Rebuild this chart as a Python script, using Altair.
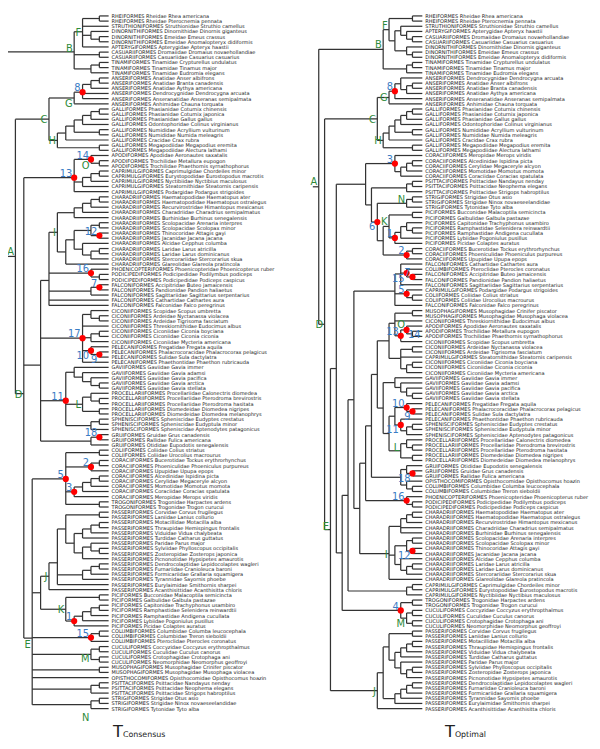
import altair as alt
import pandas as pd

LEFT_LEAVES = [
"RHEIFORMES Rheidae Rhea americana","RHEIFORMES Rheidae Pterocnemia pennata","STRUTHIONIFORMES Struthionidae Struthio camellus",
"DINORNITHIFORMES Dinornithidae Dinornis giganteus","DINORNITHIFORMES Emeidae Emeus crassus","DINORNITHIFORMES Emeidae Anomalopteryx didiformis",
"APTERYGIFORMES Apterygidae Apteryx haastii","CASUARIIFORMES Dromaiidae Dromaius novaehollandiae","CASUARIIFORMES Casuariidae Casuarius casuarius",
"TINAMIFORMES Tinamidae Crypturellus undulatus","TINAMIFORMES Tinamidae Tinamus major","TINAMIFORMES Tinamidae Eudromia elegans",
"ANSERIFORMES Anatidae Anser albifrons","ANSERIFORMES Anatidae Branta canadensis","ANSERIFORMES Anatidae Aythya americana",
"ANSERIFORMES Dendrocygnidae Dendrocygna arcuata","ANSERIFORMES Anseranatidae Anseranas semipalmata","ANSERIFORMES Anhimidae Chauna torquata",
"GALLIFORMES Phasianidae Coturnix chinensis","GALLIFORMES Phasianidae Coturnix japonica","GALLIFORMES Phasianidae Gallus gallus",
"GALLIFORMES Odontophoridae Colinus virginianus","GALLIFORMES Numididae Acryllium vulturinum","GALLIFORMES Numididae Numida meleagris",
"GALLIFORMES Cracidae Crax rubra","GALLIFORMES Megapodiidae Megapodius eremita","GALLIFORMES Megapodiidae Alectura lathami",
"APODIFORMES Apodidae Aeronautes saxatalis","APODIFORMES Trochilidae Metallura eupogon","APODIFORMES Trochilidae Phaethornis syrnathophorus",
"CAPRIMULGIFORMES Caprimulgidae Chordeiles minor","CAPRIMULGIFORMES Eurystopodidae Eurostopodus macrotis","CAPRIMULGIFORMES Nyctibiidae Nyctibius maculosus",
"CAPRIMULGIFORMES Steatornithidae Steatornis caripensis","CAPRIMULGIFORMES Podargidae Podargus strigoides",
"CHARADRIIFORMES Haematopodidae Haematopus ater","CHARADRIIFORMES Haematopodidae Haematopus ostralegus","CHARADRIIFORMES Recurvirostridae Himantopus mexicanus",
"CHARADRIIFORMES Charadriidae Charadrius semipalmatus","CHARADRIIFORMES Burhinidae Burhinus senegalensis","CHARADRIIFORMES Scolopacidae Arenaria interpres",
"CHARADRIIFORMES Scolopacidae Scolopax minor","CHARADRIIFORMES Thinocoridae Attagis gayi","CHARADRIIFORMES Jacanidae Jacana jacana",
"CHARADRIIFORMES Alcidae Cepphus columba","CHARADRIIFORMES Laridae Larus atricilla","CHARADRIIFORMES Laridae Larus dominicanus",
"CHARADRIIFORMES Stercorariidae Stercorarius skua","CHARADRIIFORMES Glareolidae Glareola pratincola",
"PHOENICOPTERIFORMES Phoenicopteridae Phoenicopterus ruber","PODICIPEDIFORMES Podicipedidae Podilymbus podiceps","PODICIPEDIFORMES Podicipedidae Podiceps caspicus",
"FALCONIFORMES Accipitridae Buteo jamaicensis","FALCONIFORMES Pandionidae Pandion haliaetus","FALCONIFORMES Sagittariidae Sagittarius serpentarius",
"FALCONIFORMES Cathartidae Cathartes aura","FALCONIFORMES Falconidae Falco peregrinus",
"CICONIIFORMES Scopidae Scopus umbretta","CICONIIFORMES Ardeidae Nyctanassa violacea","CICONIIFORMES Ardeidae Tigrisoma fasciatum",
"CICONIIFORMES Threskiornithidae Eudocimus albus","CICONIIFORMES Ciconiidae Ciconia boyciana","CICONIIFORMES Ciconiidae Ciconia ciconia",
"CICONIIFORMES Ciconiidae Mycteria americana","PELECANIFORMES Fregatidae Fregata aquila","PELECANIFORMES Phalacrocoracidae Phalacrocorax pelagicus",
"PELECANIFORMES Sulidae Sula dactylatra","PELECANIFORMES Phaethontidae Phaethon rubricauda",
"GAVIIFORMES Gaviidae Gavia immer","GAVIIFORMES Gaviidae Gavia adamsi","GAVIIFORMES Gaviidae Gavia pacifica","GAVIIFORMES Gaviidae Gavia arctica",
"GAVIIFORMES Gaviidae Gavia stellata","PROCELLARIIFORMES Procellariidae Calonectris diomedea","PROCELLARIIFORMES Procellariidae Pterodroma brevirostris",
"PROCELLARIIFORMES Procellariidae Pterodroma hasitata","PROCELLARIIFORMES Diomedeidae Diomedea nigripes","PROCELLARIIFORMES Diomedeidae Diomedea melanophrys",
"SPHENISCIFORMES Spheniscidae Eudyptes crestatus","SPHENISCIFORMES Spheniscidae Eudyptula minor","SPHENISCIFORMES Spheniscidae Aptenodytes patagonicus",
"GRUIFORMES Gruidae Grus canadensis","GRUIFORMES Rallidae Fulica americana","GRUIFORMES Otididae Eupodotis senegalensis",
"COLIIFORMES Coliidae Colius striatus","COLIIFORMES Coliidae Urocolius macrourus","CORACIIFORMES Bucerotidae Tockus erythrorhynchus",
"CORACIIFORMES Phoeniculidae Phoeniculus purpureus","CORACIIFORMES Upupidae Upupa epops","CORACIIFORMES Alcedinidae Ispidina picta",
"CORACIIFORMES Cerylidae Megaceryle alcyon","CORACIIFORMES Momotidae Momotus momota","CORACIIFORMES Coraciidae Coracias spatulata",
"CORACIIFORMES Meropidae Merops viridis","TROGONIFORMES Trogonidae Harpactes ardens","TROGONIFORMES Trogonidae Trogon curucui",
"PASSERIFORMES Corvidae Corvus frugilegus","PASSERIFORMES Laniidae Lanius collurio","PASSERIFORMES Motacillidae Motacilla alba",
"PASSERIFORMES Thraupidae Hemispingus frontalis","PASSERIFORMES Viduidae Vidua chalybeata","PASSERIFORMES Turdidae Catharus guttatus",
"PASSERIFORMES Paridae Parus major","PASSERIFORMES Sylviidae Phylloscopus occipitalis","PASSERIFORMES Zosteropidae Zosterops japonica",
"PASSERIFORMES Picnonotidae Hypsipetes amaurotis","PASSERIFORMES Dendrocolaptidae Lepidocolaptes wagleri","PASSERIFORMES Furnariidae Cranioleuca baroni",
"PASSERIFORMES Formicariidae Grallaria squamigera","PASSERIFORMES Tyrannidae Sayornis phoebe","PASSERIFORMES Eurylaimidae Smithornis sharpei",
"PASSERIFORMES Acanthisittidae Acanthisitta chloris","PICIFORMES Bucconidae Malacoptila semicincta","PICIFORMES Galbulidae Galbula pastazae",
"PICIFORMES Capitonidae Trachyphonus usambiro","PICIFORMES Ramphastidae Selenidera reinwardtii","PICIFORMES Ramphastidae Andigena cucullata",
"PICIFORMES Lybiidae Pogoniulus pusillus","PICIFORMES Picidae Colaptes auratus","COLUMBIFORMES Columbidae Columba leucocephala",
"COLUMBIFORMES Columbidae Treron sieboldii","COLUMBIFORMES Pteroclidae Pterocles coronatus","CUCULIFORMES Coccyzidae Coccyzus erythropthalmus",
"CUCULIFORMES Cuculidae Cuculus canorus","CUCULIFORMES Crotophagidae Crotophaga ani","CUCULIFORMES Neomorphidae Neomorphus geoffroyi",
"MUSOPHAGIFORMES Musophagidae Crinifer piscator","MUSOPHAGIFORMES Musophagidae Musophaga violacea","OPISTHOCOMIFORMES Opisthocomidae Opisthocomus hoazin",
"PSITTACIFORMES Psittacidae Nandayus nenday","PSITTACIFORMES Psittacidae Neophema elegans","PSITTACIFORMES Psittacidae Strigops habroptilus",
"STRIGIFORMES Strigidae Otus asio","STRIGIFORMES Strigidae Ninox novaeseelandidae","STRIGIFORMES Tytonidae Tyto alba",
]

RIGHT_LEAVES = [
"RHEIFORMES Rheidae Rhea americana","RHEIFORMES Rheidae Pterocnemia pennata","STRUTHIONIFORMES Struthionidae Struthio camellus",
"APTERYGIFORMES Apterygidae Apteryx haastii","CASUARIIFORMES Dromaiidae Dromaius novaehollandiae","CASUARIIFORMES Casuariidae Casuarius casuarius",
"DINORNITHIFORMES Dinornithidae Dinornis giganteus","DINORNITHIFORMES Emeidae Emeus crassus","DINORNITHIFORMES Emeidae Anomalopteryx didiformis",
"TINAMIFORMES Tinamidae Crypturellus undulatus","TINAMIFORMES Tinamidae Tinamus major","TINAMIFORMES Tinamidae Eudromia elegans",
"ANSERIFORMES Dendrocygnidae Dendrocygna arcuata","ANSERIFORMES Anatidae Anser albifrons","ANSERIFORMES Anatidae Branta canadensis",
"ANSERIFORMES Anatidae Aythya americana","ANSERIFORMES Anseranatidae Anseranas semipalmata","ANSERIFORMES Anhimidae Chauna torquata",
"GALLIFORMES Phasianidae Coturnix chinensis","GALLIFORMES Phasianidae Coturnix japonica","GALLIFORMES Phasianidae Gallus gallus",
"GALLIFORMES Odontophoridae Colinus virginianus","GALLIFORMES Numididae Acryllium vulturinum","GALLIFORMES Numididae Numida meleagris",
"GALLIFORMES Cracidae Crax rubra","GALLIFORMES Megapodiidae Megapodius eremita","GALLIFORMES Megapodiidae Alectura lathami",
"CORACIIFORMES Meropidae Merops viridis","CORACIIFORMES Alcedinidae Ispidina picta","CORACIIFORMES Cerylidae Megaceryle alcyon",
"CORACIIFORMES Momotidae Momotus momota","CORACIIFORMES Coraciidae Coracias spatulata","PSITTACIFORMES Psittacidae Nandayus nenday",
"PSITTACIFORMES Psittacidae Neophema elegans","PSITTACIFORMES Psittacidae Strigops habroptilus","STRIGIFORMES Strigidae Otus asio",
"STRIGIFORMES Strigidae Ninox novaeseelandidae","STRIGIFORMES Tytonidae Tyto alba","PICIFORMES Bucconidae Malacoptila semicincta",
"PICIFORMES Galbulidae Galbula pastazae","PICIFORMES Capitonidae Trachyphonus usambiro","PICIFORMES Ramphastidae Selenidera reinwardtii",
"PICIFORMES Ramphastidae Andigena cucullata","PICIFORMES Lybiidae Pogoniulus pusillus","PICIFORMES Picidae Colaptes auratus",
"CORACIIFORMES Bucerotidae Tockus erythrorhynchus","CORACIIFORMES Phoeniculidae Phoeniculus purpureus","CORACIIFORMES Upupidae Upupa epops",
"FALCONIFORMES Cathartidae Cathartes aura","COLUMBIFORMES Pteroclidae Pterocles coronatus","FALCONIFORMES Accipitridae Buteo jamaicensis",
"FALCONIFORMES Pandionidae Pandion haliaetus","FALCONIFORMES Sagittariidae Sagittarius serpentarius","CAPRIMULGIFORMES Podargidae Podargus strigoides",
"COLIIFORMES Coliidae Colius striatus","COLIIFORMES Coliidae Urocolius macrourus","FALCONIFORMES Falconidae Falco peregrinus",
"MUSOPHAGIFORMES Musophagidae Crinifer piscator","MUSOPHAGIFORMES Musophagidae Musophaga violacea","CICONIIFORMES Threskiornithidae Eudocimus albus",
"APODIFORMES Apodidae Aeronautes saxatalis","APODIFORMES Trochilidae Metallura eupogon","APODIFORMES Trochilidae Phaethornis syrnathophorus",
"CICONIIFORMES Scopidae Scopus umbretta","CICONIIFORMES Ardeidae Nyctanassa violacea","CICONIIFORMES Ardeidae Tigrisoma fasciatum",
"CAPRIMULGIFORMES Steatornithidae Steatornis caripensis","CICONIIFORMES Ciconiidae Ciconia boyciana","CICONIIFORMES Ciconiidae Ciconia ciconia",
"CICONIIFORMES Ciconiidae Mycteria americana","GAVIIFORMES Gaviidae Gavia immer","GAVIIFORMES Gaviidae Gavia adamsi",
"GAVIIFORMES Gaviidae Gavia pacifica","GAVIIFORMES Gaviidae Gavia arctica","GAVIIFORMES Gaviidae Gavia stellata",
"PELECANIFORMES Fregatidae Fregata aquila","PELECANIFORMES Phalacrocoracidae Phalacrocorax pelagicus","PELECANIFORMES Sulidae Sula dactylatra",
"PELECANIFORMES Phaethontidae Phaethon rubricauda","SPHENISCIFORMES Spheniscidae Eudyptes crestatus","SPHENISCIFORMES Spheniscidae Eudyptula minor",
"SPHENISCIFORMES Spheniscidae Aptenodytes patagonicus","PROCELLARIIFORMES Procellariidae Calonectris diomedea","PROCELLARIIFORMES Procellariidae Pterodroma brevirostris",
"PROCELLARIIFORMES Procellariidae Pterodroma hasitata","PROCELLARIIFORMES Diomedeidae Diomedea nigripes","PROCELLARIIFORMES Diomedeidae Diomedea melanophrys",
"GRUIFORMES Otididae Eupodotis senegalensis","GRUIFORMES Gruidae Grus canadensis","GRUIFORMES Rallidae Fulica americana",
"OPISTHOCOMIFORMES Opisthocomidae Opisthocomus hoazin","COLUMBIFORMES Columbidae Columba leucocephala","COLUMBIFORMES Columbidae Treron sieboldii",
"PHOENICOPTERIFORMES Phoenicopteridae Phoenicopterus ruber","PODICIPEDIFORMES Podicipedidae Podilymbus podiceps","PODICIPEDIFORMES Podicipedidae Podiceps caspicus",
"CHARADRIIFORMES Haematopodidae Haematopus ater","CHARADRIIFORMES Haematopodidae Haematopus ostralegus","CHARADRIIFORMES Recurvirostridae Himantopus mexicanus",
"CHARADRIIFORMES Charadriidae Charadrius semipalmatus","CHARADRIIFORMES Burhinidae Burhinus senegalensis","CHARADRIIFORMES Scolopacidae Arenaria interpres",
"CHARADRIIFORMES Scolopacidae Scolopax minor","CHARADRIIFORMES Thinocoridae Attagis gayi","CHARADRIIFORMES Jacanidae Jacana jacana",
"CHARADRIIFORMES Alcidae Cepphus columba","CHARADRIIFORMES Laridae Larus atricilla","CHARADRIIFORMES Laridae Larus dominicanus",
"CHARADRIIFORMES Stercorariidae Stercorarius skua","CHARADRIIFORMES Glareolidae Glareola pratincola","CAPRIMULGIFORMES Caprimulgidae Chordeiles minor",
"CAPRIMULGIFORMES Eurystopodidae Eurostopodus macrotis","CAPRIMULGIFORMES Nyctibiidae Nyctibius maculosus","TROGONIFORMES Trogonidae Harpactes ardens",
"TROGONIFORMES Trogonidae Trogon curucui","CUCULIFORMES Coccyzidae Coccyzus erythropthalmus","CUCULIFORMES Cuculidae Cuculus canorus",
"CUCULIFORMES Crotophagidae Crotophaga ani","CUCULIFORMES Neomorphidae Neomorphus geoffroyi","PASSERIFORMES Corvidae Corvus frugilegus",
"PASSERIFORMES Laniidae Lanius collurio","PASSERIFORMES Motacillidae Motacilla alba","PASSERIFORMES Thraupidae Hemispingus frontalis",
"PASSERIFORMES Viduidae Vidua chalybeata","PASSERIFORMES Turdidae Catharus guttatus","PASSERIFORMES Paridae Parus major",
"PASSERIFORMES Sylviidae Phylloscopus occipitalis","PASSERIFORMES Zosteropidae Zosterops japonica","PASSERIFORMES Picnonotidae Hypsipetes amaurotis",
"PASSERIFORMES Dendrocolaptidae Lepidocolaptes wagleri","PASSERIFORMES Furnariidae Cranioleuca baroni","PASSERIFORMES Formicariidae Grallaria squamigera",
"PASSERIFORMES Tyrannidae Sayornis phoebe","PASSERIFORMES Eurylaimidae Smithornis sharpei","PASSERIFORMES Acanthisittidae Acanthisitta chloris",
]


def grp(*parts, tag=""):
    return "(" + ",".join(str(p) for p in parts) + ")" + tag


# ---- Left tree (T_Consensus); leaf numbers index LEFT_LEAVES (1-based)
# tags: letters = clade name (green); digits = numbered node (red dot + blue number);
# "_" = number below-left, "~" = number below-right
L_F = "((1,2),3,(4,(5,6)),7)F"
L_B = grp(L_F, "(8,9)", "((10,11),12)", tag="B")
L_G = grp("(((13,14),15),16,17)8", 18, tag="G")
L_H = "((((((19,20),21),22),(23,24)),25),(26,27))H"
L_C = grp(L_G, L_H, tag="C")
L_13 = "((28,(29,30))O14,(((31,32),33),34),35)13"
L_I = "(((((36,37),38),39),40),((((41,42),(43,44)12),(45,((46,47),48))),49))I"
L_135 = grp(L_I, "(50,(51,52))16", "((53,54)7,55)", 56, 57)
L_17 = "((58,(59,60)),61,((62,63),64),(65,(66,67)9_)10_,68)17"
L_11 = "((69,(70,(71,(72,73)))),((74,(75,76)),(77,78))L,((79,80),81))11"
L_105 = grp(L_135, L_17, L_11, "((82,83)18,84)")
L_5 = "((85,86),((87,88),89)2,((((90,91),92),93),94)3,(95,96))5"
L_J = "(((((97,98),((((99,100),101),102),((103,(104,105)),106))),(((107,108),109),110),111),112)J"
L_K = "((113,114),((((115,116),117),118),119)1)K"
L_35 = grp(L_5, L_J, L_K)
L_E = grp(L_13, L_105, L_35, "((120,121),122)15", "((123,124),(125,126))M", "(127,128)", 129,
          "((130,131),132)", "((133,134),135)N", tag="E")
L_D = grp(L_C, L_E, tag="D")
LEFT_TREE = grp(L_B, L_D, tag="A")

# ---- Right tree (T_Optimal); leaf numbers index RIGHT_LEAVES (1-based)
R_F = "((1,2),((3,(4,(5,6))),(7,(8,9))))F"
R_B = grp(R_F, "((10,11),12)", tag="B")
R_G = "(((13,((14,15),16)),17)8,18)G"
R_H = "((((((19,20),21),22),(23,24)),25),(26,27))H"
R_C = grp(R_G, R_H, tag="C")
R_K = grp("(39,40)", "(((41,(42,43)),44),45)1", tag="K")
R_6 = grp("((36,37),38)N", grp(R_K, "((46,47),48)2"), tag="6_")
R_P1 = grp("(28,(((29,30),31),32))3", grp("((33,34),35)", R_6))
R_P2 = "((49,(50,(51,52)7)15_,53),(54,(55,56))5,57)"
R_P3 = "(((58,59),60,((61,(62,63))O14~,64)13),((65,66),67,((68,69),70)))"
R_P4 = "((71,(72,(73,(74,75)))),(((76,(77,78)9_)10,(79,((80,81),82))11_),((83,(84,85)),(86,87))L))"
R_P5 = "((88,(89,90)18_),(91,(92,93)))"
R_P6 = "(94,(95,96))16"
R_I = "((((97,98),99),100,101),(((102,103),(104,105)12_),(106,((107,108),109))),110)I"
R_P7 = "((114,115),((116,117),(118,119))M)4"
R_J = "((((120,121),((((122,123),124),125),(126,((127,128),129)))),((((130,131),132),133),134)),135)J"
R_R6 = grp(R_P3, R_P4)
R_R5 = grp(R_R6, R_P5)
R_R4 = grp(R_R5, R_P6)
R_R3b = grp(R_R4, R_I)
R_R3 = grp(R_P2, R_R3b)
R_R2 = grp(R_R3, "((111,112),113)")
R_R1b = grp(R_R2, R_P7)
R_R1 = grp(R_P1, R_R1b)
R_E = grp(R_R1, R_J, tag="E")
R_D = grp(R_C, R_E, tag="D")
RIGHT_TREE = grp(R_B, R_D, tag="A")

# vertical nudges of clade letters relative to their node (px)
LEFT_LETTER_DY = {"A": -5, "B": -4, "G": 5, "O": 6, "N": 13, "M": 4, "E": 6}
RIGHT_LETTER_DY = {"A": -6, "B": -5, "F": -5, "K": -5, "O": -6, "N": -4, "L": -4, "M": 5, "E": -4}

TITLE_MAIN = ["T", "T"]
TITLE_SUB = ["Consensus", "Optimal"]


def parse(s):
    pos = 0
    n = len(s)

    def read_tok():
        nonlocal pos
        st = pos
        while pos < n and s[pos] not in "(),":
            pos += 1
        return s[st:pos]

    def node():
        nonlocal pos
        if pos < n and s[pos] == "(":
            pos += 1
            kids = [node()]
            while pos < n and s[pos] == ",":
                pos += 1
                kids.append(node())
            if pos < n and s[pos] == ")":
                pos += 1
            return {"kids": kids, "tag": read_tok()}
        return {"leaf": int(read_tok())}

    return node()


def height(nd):
    if "leaf" in nd:
        return 0
    nd["h"] = max(height(c) for c in nd["kids"]) + 1
    return nd["h"]


def layout(tree, leaves, tip_x, root_x, first_edge, y0, dy, letter_dy):
    H = height(tree)
    step = (tip_x - root_x - first_edge) / max(H - 1, 1)
    segs, dots, nums, lets, labs = [], [], [], [], []

    def rec(nd):
        if "leaf" in nd:
            y = y0 + (nd["leaf"] - 1) * dy
            labs.append({"x": tip_x + 3.0, "y": y, "t": leaves[nd["leaf"] - 1]})
            return tip_x, y
        ch = [rec(c) for c in nd["kids"]]
        x = tip_x - first_edge - (nd["h"] - 1) * step
        y = sum(c[1] for c in ch) / len(ch)
        segs.append({"x": x, "x2": x, "y": ch[0][1], "y2": ch[-1][1]})
        for cx, cy in ch:
            segs.append({"x": x, "x2": cx, "y": cy, "y2": cy})
        tag = nd["tag"]
        letters = "".join(c for c in tag if c.isalpha())
        digits = "".join(c for c in tag if c.isdigit())
        if letters:
            lets.append({"x": x - 1.5, "y": y + 1 + letter_dy.get(letters, 0), "t": letters})
        if digits:
            dots.append({"x": x, "y": y})
            if "_" in tag:
                nums.append({"x": x - 2, "y": y + 8.6, "t": digits, "a": "right"})
            elif "~" in tag:
                nums.append({"x": x + 1.5, "y": y + 8.6, "t": digits, "a": "left"})
            else:
                nums.append({"x": x - 2, "y": y - 0.8, "t": digits, "a": "right"})
        return x, y

    rx, ry = rec(tree)
    segs.append({"x": rx - 6, "x2": rx, "y": ry, "y2": ry})
    return segs, dots, nums, lets, labs


Y0, DY = 11.0, 5.24
Lt = layout(parse(LEFT_TREE), LEFT_LEAVES, 110, 7, 9.4, Y0, DY, LEFT_LETTER_DY)
Rt = layout(parse(RIGHT_TREE), RIGHT_LEAVES, 428, 323, 10, Y0, DY, RIGHT_LETTER_DY)

segs = pd.DataFrame(Lt[0] + Rt[0])
dots = pd.DataFrame(Lt[1] + Rt[1])
nums = pd.DataFrame(Lt[2] + Rt[2])
lets = pd.DataFrame(Lt[3] + Rt[3])
labs = pd.DataFrame(Lt[4] + Rt[4])

titles_main = pd.DataFrame({"x": [124.5, 461.0], "y": [741.5, 741.5], "t": TITLE_MAIN})
titles_sub = pd.DataFrame({"x": [124.5, 461.0], "y": [742.0, 742.0], "t": TITLE_SUB})

W, H = 592, 736
xs = alt.Scale(domain=[8, 8 + W], range=[0, W])
ys = alt.Scale(domain=[8, 8 + H], range=[0, H])


def X(f):
    return alt.X(f, type="quantitative", scale=xs, axis=None)


def Y(f):
    return alt.Y(f, type="quantitative", scale=ys, axis=None)


rules = alt.Chart(segs).mark_rule(color="#333333", strokeWidth=1.25).encode(
    x=X("x"), x2="x2", y=Y("y"), y2="y2")
leaf_text = alt.Chart(labs).mark_text(align="left", baseline="middle", font="DejaVu Sans",
                                      fontSize=5.1, color="#1a1a1a").encode(x=X("x"), y=Y("y"), text="t:N")
dot_marks = alt.Chart(dots).mark_circle(color="#ff0000", opacity=1, size=40).encode(x=X("x"), y=Y("y"))
num_r = alt.Chart(nums).transform_filter(alt.datum.a == "right").mark_text(
    align="right", baseline="alphabetic", font="DejaVu Sans", fontSize=10, color="#3a7cc4"
).encode(x=X("x"), y=Y("y"), text="t:N")
num_l = alt.Chart(nums).transform_filter(alt.datum.a == "left").mark_text(
    align="left", baseline="alphabetic", font="DejaVu Sans", fontSize=10, color="#3a7cc4"
).encode(x=X("x"), y=Y("y"), text="t:N")
let_text = alt.Chart(lets).mark_text(align="right", baseline="middle", font="DejaVu Sans",
                                     fontSize=10, color="#2e8b3a").encode(x=X("x"), y=Y("y"), text="t:N")
t_text = alt.Chart(titles_main).mark_text(align="right", baseline="alphabetic", font="DejaVu Sans",
                                          fontSize=16.5, color="#222222").encode(x=X("x"), y=Y("y"), text="t:N")
sub_text = alt.Chart(titles_sub).mark_text(align="left", baseline="alphabetic", font="DejaVu Sans",
                                           fontSize=8, color="#222222").encode(x=X("x"), y=Y("y"), text="t:N")

chart = alt.layer(rules, leaf_text, dot_marks, num_r, num_l, let_text, t_text, sub_text).properties(
    width=W, height=H, padding=0, autosize=alt.AutoSizeParams(type="none")
).configure_view(stroke=None)

chart.save("out.html", embed_options={"renderer": "svg", "actions": False})
